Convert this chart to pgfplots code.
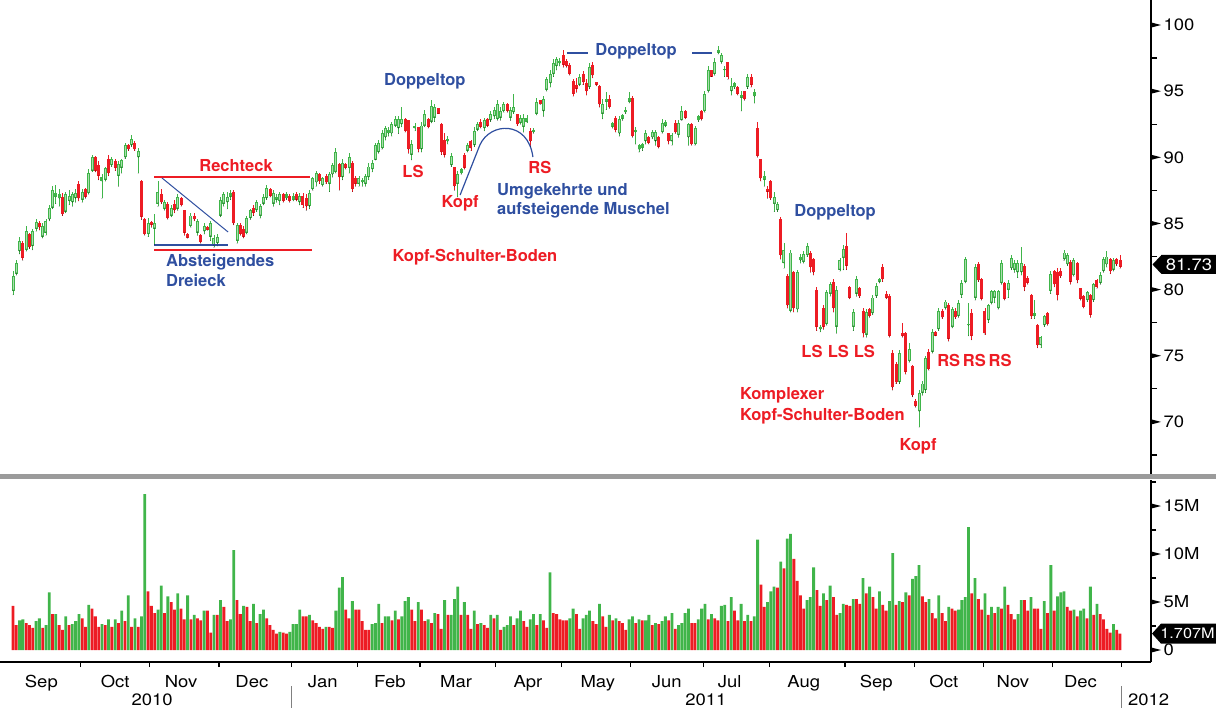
\documentclass[border=0pt]{standalone}
\usepackage{pgfplots}
\pgfplotsset{compat=1.18}
\usepackage{pgfplotstable}
\usepackage{fontspec}
\setmainfont{TeX Gyre Heros}
\newfontfamily\axisfontfam[FakeStretch=1.12]{TeX Gyre Heros}
\newcommand\axisfont{\axisfontfam\fontsize{16.5bp}{19bp}\selectfont}
\newcommand\annfont{\fontsize{16.5bp}{20bp}\selectfont\bfseries}
\definecolor{cgreen}{HTML}{40B54A}
\definecolor{cgfill}{HTML}{ABDDAE}
\definecolor{cred}{HTML}{ED1C24}
\definecolor{cblue}{HTML}{2F4FA0}
\definecolor{sepgray}{HTML}{9B9B9B}

\pgfplotstableread{
i o h l c v g
0 79.9 81.4 79.6 81.0 4.6 0
1 81.2 82.2 81.1 82.0 2.6 0
2 82.9 84.0 82.7 83.7 3.1 1
3 83.5 83.7 82.2 82.4 3.2 1
4 83.0 84.8 82.9 84.4 2.8 0
5 84.2 84.3 83.1 83.2 2.6 0
6 83.3 84.6 83.0 84.4 2.3 0
7 84.6 85.3 84.4 85.1 3.0 1
8 85.0 85.2 84.5 84.7 3.3 1
9 84.0 85.0 83.9 84.8 2.3 0
10 84.3 85.3 84.1 85.2 2.6 1
11 85.3 86.4 85.2 86.2 6.0 1
12 86.2 87.8 86.1 87.5 3.75 0
13 87.0 87.9 86.5 87.3 3.75 1
14 86.9 87.6 86.3 87.2 2.6 0
15 87.0 87.3 85.6 85.7 2.1 0
16 85.9 87.4 85.8 87.2 3.5 1
17 86.7 87.5 86.4 87.1 2.6 0
18 86.6 87.4 86.3 87.2 2.7 1
19 86.9 87.6 86.6 87.3 3.0 1
20 88.0 88.2 86.7 86.9 3.75 1
21 86.8 87.6 86.6 87.4 3.3 0
22 87.6 87.7 86.9 87.0 2.4 0
23 87.3 89.1 87.2 88.8 4.7 1
24 89.0 90.2 88.9 90.0 4.3 0
25 90.0 90.1 88.9 89.0 3.5 0
26 89.4 89.7 88.3 88.6 2.4 0
27 88.2 88.7 86.9 88.5 2.7 1
28 88.3 89.3 88.2 89.2 2.6 0
29 89.9 90.2 88.6 88.8 3.2 1
30 89.4 90.0 89.3 89.9 2.4 0
31 89.7 89.9 89.0 89.2 3.2 1
32 88.6 89.7 87.8 89.5 2.8 0
33 89.2 89.9 88.8 89.8 4.1 1
34 90.0 91.1 89.9 90.9 3.0 0
35 90.9 91.0 90.5 90.6 5.7 1
36 90.9 91.7 90.8 91.4 2.4 0
37 91.1 91.2 90.5 90.6 3.3 1
38 90.0 90.7 88.8 90.5 2.4 0
39 88.2 88.3 85.3 85.5 3.5 1
40 85.3 85.4 84.1 84.2 16.25 1
41 84.2 85.4 84.0 85.0 6.1 0
42 85.1 85.2 84.7 84.9 4.6 0
43 84.6 85.7 83.4 85.0 3.85 0
44 86.5 88.2 86.3 87.4 4.2 1
45 87.2 87.6 86.5 86.6 6.7 1
46 86.1 86.8 86.0 86.6 3.85 0
47 86.5 86.6 85.3 85.4 5.6 1
48 85.6 86.4 85.5 86.2 5.0 0
49 86.5 86.8 85.8 86.0 4.2 0
50 86.1 87.2 86.0 87.0 5.9 1
51 86.9 87.0 86.3 86.4 4.3 0
52 86.0 86.0 84.1 84.3 3.2 0
53 84.2 84.3 83.9 83.9 5.7 1
54 84.8 85.8 84.7 85.6 3.2 0
55 85.6 85.8 85.2 85.3 3.65 1
56 84.3 85.3 84.1 85.2 3.3 0
57 84.1 84.2 83.5 83.6 3.1 0
58 84.4 85.0 84.2 84.8 4.1 1
59 84.7 84.8 84.5 84.5 4.1 0
60 84.0 85.2 83.7 85.0 1.8 0
61 83.3 84.1 83.2 83.9 3.65 1
62 83.5 84.2 83.3 84.0 3.65 0
63 85.6 87.0 85.5 86.8 5.2 1
64 86.5 87.4 86.3 87.2 4.5 0
65 86.6 87.4 86.1 87.0 3.0 0
66 87.0 87.5 86.8 87.3 3.2 1
67 87.4 87.5 84.9 85.0 10.4 1
68 83.7 85.0 83.5 84.9 5.2 0
69 84.9 85.0 84.1 84.2 3.75 0
70 84.6 84.8 83.9 84.0 4.6 1
71 84.3 85.6 84.2 85.4 4.5 0
72 85.4 86.1 85.3 86.0 3.0 0
73 86.2 86.4 85.6 85.8 4.8 1
74 86.0 86.8 85.9 86.6 2.8 0
75 85.6 86.5 85.4 86.3 3.75 1
76 86.5 87.2 86.4 87.0 4.2 1
77 86.9 87.9 86.8 87.7 3.3 0
78 87.6 87.7 87.0 87.1 2.6 0
79 86.5 87.5 86.3 87.3 2.1 0
80 86.8 87.2 86.6 87.0 1.7 0
81 86.7 87.4 86.4 87.2 1.9 1
82 87.2 87.3 86.6 86.7 1.8 0
83 86.9 87.4 86.8 87.2 1.7 0
84 87.1 87.2 86.6 86.7 1.9 1
85 86.8 87.3 86.7 87.1 2.7 1
86 87.2 87.4 86.7 86.8 2.7 1
87 86.6 87.3 86.4 87.1 4.2 1
88 87.1 87.3 86.2 86.4 3.5 0
89 86.9 87.2 86.0 86.3 3.5 0
90 86.3 87.5 86.1 87.3 3.65 1
91 87.6 88.5 87.5 88.4 3.1 0
92 88.1 89.0 87.8 88.8 2.8 0
93 88.7 88.8 88.0 88.2 2.4 0
94 87.9 88.5 87.8 88.4 2.2 0
95 88.6 88.7 88.0 88.1 2.4 1
96 88.0 88.9 87.4 88.7 2.4 0
97 88.7 89.6 88.5 89.4 2.3 0
98 88.9 90.7 88.8 90.4 4.1 1
99 89.5 89.6 87.5 88.5 6.5 1
100 88.5 89.9 88.3 89.6 7.6 1
101 89.5 89.6 89.1 89.2 4.2 0
102 89.2 90.3 88.8 90.0 3.3 0
103 89.6 89.7 87.4 87.6 5.1 1
104 88.4 88.6 87.8 88.0 4.2 0
105 88.0 88.6 87.8 88.4 4.2 0
106 88.1 88.4 87.8 88.3 3.0 0
107 88.0 88.7 87.8 88.6 2.1 0
108 88.5 89.6 88.3 89.3 2.1 0
109 89.1 89.8 88.9 89.6 2.7 1
110 89.8 91.1 89.8 90.9 2.8 1
111 90.4 91.3 90.3 91.1 4.8 1
112 90.7 92.1 90.6 91.8 2.8 0
113 91.5 92.4 91.3 92.2 3.5 1
114 91.8 92.3 91.6 92.1 3.5 1
115 91.8 92.7 91.6 92.5 3.1 0
116 92.4 93.1 92.3 92.9 4.1 1
117 92.2 93.1 91.8 92.9 3.2 0
118 92.5 93.8 92.3 92.9 3.5 1
119 92.9 93.0 91.9 92.0 5.1 1
120 92.8 92.8 90.3 90.6 5.5 1
121 90.2 91.3 89.8 91.0 4.2 0
122 92.2 92.6 92.0 92.4 3.0 0
123 92.3 92.3 90.4 90.6 5.0 1
124 90.6 92.7 90.4 92.4 4.2 0
125 92.4 93.6 92.3 93.3 3.0 0
126 92.9 93.0 92.2 92.3 3.2 1
127 92.7 94.3 92.6 93.9 2.8 0
128 93.0 94.0 92.7 93.8 3.85 1
129 93.7 93.7 93.3 93.3 3.75 0
130 92.5 92.6 90.2 90.4 2.2 0
131 91.3 91.8 90.0 90.2 5.2 1
132 91.2 91.6 91.0 91.4 3.65 0
133 89.4 90.3 89.3 90.1 3.65 1
134 89.3 89.3 87.5 87.8 5.3 1
135 88.0 89.0 87.0 88.7 6.6 1
136 88.8 89.2 88.7 89.1 3.65 0
137 90.2 90.3 89.1 89.2 5.0 1
138 90.5 91.1 90.4 90.9 3.65 0
139 91.2 91.3 90.5 90.7 2.2 0
140 90.9 92.3 90.8 92.0 4.1 1
141 92.1 92.7 92.0 92.5 2.7 0
142 92.7 92.9 92.2 92.3 2.8 1
143 92.2 93.0 92.0 92.8 2.6 0
144 92.9 93.0 92.3 92.4 2.3 0
145 92.8 93.5 92.7 93.3 3.65 1
146 93.1 93.8 92.9 93.6 3.3 0
147 92.9 94.3 92.8 94.0 3.65 1
148 93.0 93.8 92.8 93.5 2.1 0
149 93.5 94.2 93.4 94.0 2.4 1
150 94.0 94.1 93.4 93.5 2.6 1
151 93.0 93.8 92.8 93.6 3.5 1
152 93.4 94.8 93.3 93.8 2.6 0
153 93.3 93.3 92.4 92.5 3.3 1
154 92.6 93.2 92.5 93.0 4.1 1
155 92.3 93.3 91.9 93.0 3.0 0
156 92.7 93.2 92.6 93.0 2.4 0
157 92.0 92.2 90.8 91.2 3.2 1
158 91.9 92.2 91.8 92.1 3.75 1
159 93.3 94.5 93.2 94.2 2.6 0
160 94.3 94.3 94.0 94.0 3.75 1
161 93.5 94.6 93.1 94.4 3.1 0
162 95.1 96.1 95.0 95.9 2.3 0
163 95.6 96.6 95.3 96.3 8.1 1
164 96.3 97.4 96.1 97.1 3.85 0
165 96.9 97.6 96.6 97.4 3.75 0
166 97.1 97.5 96.9 97.3 3.2 0
167 97.7 98.1 96.8 97.0 3.1 0
168 97.3 97.4 96.8 96.9 3.1 0
169 97.0 97.1 96.2 96.3 3.3 1
170 95.8 95.9 94.6 94.8 4.3 1
171 95.5 96.0 94.9 95.2 3.75 0
172 95.5 96.3 95.4 96.1 2.2 0
173 96.3 96.5 95.5 95.7 3.3 1
174 95.6 95.9 94.7 95.0 3.65 1
175 95.3 97.1 95.2 96.8 4.1 1
176 97.0 97.2 96.0 96.2 3.0 0
177 95.7 95.7 95.4 95.5 2.7 0
178 95.4 95.5 93.8 94.0 4.8 1
179 93.3 94.4 92.9 94.0 3.5 0
180 94.2 94.9 93.6 94.4 2.4 0
181 94.4 94.7 93.7 93.8 3.65 1
182 92.3 92.7 92.2 92.6 3.1 0
183 93.0 93.1 91.9 92.1 3.3 1
184 91.8 93.1 91.6 92.9 3.0 0
185 92.9 93.3 92.8 93.2 2.8 0
186 93.4 93.8 93.3 93.6 2.1 0
187 94.2 94.9 94.1 94.5 3.2 1
188 94.5 94.6 91.5 91.6 3.5 1
189 91.9 92.3 91.0 92.1 2.8 0
190 90.6 91.0 90.4 90.9 3.2 1
191 90.7 91.1 90.5 91.0 3.1 0
192 91.2 92.1 91.0 91.8 3.1 1
193 91.5 91.6 91.0 91.1 3.65 1
194 91.5 92.1 91.4 91.9 2.6 0
195 91.2 92.1 90.9 91.9 2.8 1
196 91.5 91.6 90.7 90.8 2.7 0
197 91.9 92.9 91.8 92.6 3.0 1
198 92.4 92.8 92.3 92.7 3.5 1
199 91.8 91.8 91.0 91.2 3.1 0
200 91.2 91.8 90.9 91.7 3.85 1
201 92.6 92.8 91.8 91.9 2.2 0
202 91.7 92.8 91.5 92.6 2.6 1
203 92.8 93.9 92.8 93.5 2.8 1
204 93.5 93.6 92.9 93.0 3.85 1
205 91.5 92.6 90.9 92.5 4.3 1
206 92.5 92.6 90.9 91.0 2.8 0
207 91.0 92.4 90.9 92.2 2.8 0
208 92.8 93.2 92.7 93.1 3.2 1
209 93.5 93.6 92.8 92.9 4.3 1
210 93.5 95.0 93.4 94.8 4.8 1
211 95.0 96.9 94.9 96.6 3.2 0
212 96.6 96.6 96.1 96.1 3.75 1
213 96.3 97.5 96.2 97.2 3.3 0
214 97.9 98.4 97.8 98.1 3.1 0
215 97.2 97.9 97.1 97.7 4.6 1
216 96.6 96.9 96.1 96.7 4.7 1
217 97.2 97.2 95.9 96.1 3.0 0
218 95.0 96.0 94.7 95.4 5.5 1
219 95.3 95.7 95.2 95.6 4.1 0
220 95.3 95.4 94.7 94.8 3.1 0
221 94.5 95.0 93.5 94.7 4.8 1
222 95.0 95.0 94.3 94.4 3.0 0
223 95.3 96.3 95.2 96.1 3.65 1
224 96.1 96.3 95.3 95.5 3.0 0
225 94.6 95.2 94.1 94.9 3.5 1
226 92.2 92.7 90.0 90.1 11.5 1
227 89.9 89.9 88.2 88.4 6.8 0
228 88.3 89.0 87.8 88.6 4.5 0
229 87.6 87.8 86.9 87.4 5.0 1
230 88.2 88.3 86.8 86.9 6.1 1
231 86.5 87.4 85.9 87.0 6.6 1
232 86.0 86.6 85.9 86.5 6.5 0
233 85.3 85.5 82.3 82.6 9.2 1
234 82.0 83.5 81.6 83.0 8.5 0
235 81.0 81.2 78.6 78.8 11.6 1
236 78.4 83.0 78.3 82.8 12.1 1
237 81.3 81.4 78.3 78.6 9.5 0
238 78.5 81.5 78.3 81.3 7.2 0
239 82.2 82.7 82.0 82.5 5.7 0
240 82.1 82.9 82.0 82.7 4.3 0
241 82.6 83.5 82.5 83.3 5.2 1
242 82.8 82.9 81.3 81.7 5.5 1
243 82.3 82.4 81.1 81.3 8.6 1
244 80.0 80.2 76.9 77.2 6.25 0
245 77.0 77.3 76.8 77.2 4.6 0
246 78.6 78.8 77.0 77.2 5.9 1
247 77.4 80.0 77.3 79.8 5.2 0
248 79.7 80.6 79.5 80.4 6.7 1
249 80.6 80.8 78.3 78.6 5.5 0
250 77.2 80.3 76.7 80.0 3.65 0
251 81.5 82.4 81.4 82.2 3.85 1
252 82.4 83.4 81.5 83.1 4.8 1
253 83.3 84.3 81.5 81.8 4.7 0
254 80.2 80.3 79.3 79.4 4.6 0
255 77.2 78.5 76.9 78.3 5.3 1
256 79.7 81.0 79.5 80.8 5.3 0
257 80.1 80.2 79.4 79.5 4.8 0
258 78.4 78.6 76.4 76.7 7.5 1
259 76.6 78.5 76.4 78.3 5.9 0
260 78.5 78.6 77.9 78.0 6.6 1
261 78.2 79.6 78.1 79.4 5.5 0
262 79.5 80.5 79.4 80.3 4.3 0
263 80.6 80.9 80.5 80.8 6.1 1
264 81.7 81.9 80.6 80.8 4.7 0
265 79.7 79.9 79.3 79.4 4.1 0
266 79.5 79.7 76.4 76.5 5.1 1
267 75.2 75.4 72.4 72.6 10.1 1
268 74.4 74.5 72.9 73.0 4.7 0
269 73.0 75.4 72.9 75.2 5.1 1
270 76.7 77.5 76.4 76.5 5.0 0
271 76.7 76.8 73.6 73.8 6.0 1
272 74.6 76.0 74.5 75.5 5.7 0
273 74.2 74.3 71.9 72.0 7.4 1
274 71.6 71.7 71.1 71.2 7.7 1
275 70.8 72.4 69.6 72.2 8.85 1
276 72.2 73.1 72.0 72.9 5.6 0
277 72.4 75.0 72.2 74.8 5.0 0
278 75.3 75.5 73.9 74.0 5.3 1
279 75.3 77.0 75.2 76.8 3.85 0
280 76.8 76.9 76.5 76.5 3.3 0
281 77.0 78.6 76.9 78.4 5.7 1
282 78.4 78.5 77.8 77.9 3.85 0
283 78.6 79.2 78.5 79.1 3.0 0
284 78.8 79.0 76.1 76.3 4.5 1
285 77.2 78.7 77.1 78.5 4.3 0
286 78.4 78.6 77.8 77.9 4.1 0
287 78.0 79.2 77.9 79.0 4.2 1
288 79.6 80.7 79.4 80.5 5.2 1
289 80.6 82.5 80.5 82.3 5.5 1
290 77.3 79.0 76.5 77.4 12.8 1
291 78.2 78.5 76.2 76.5 5.9 0
292 79.4 81.9 79.2 81.7 7.5 1
293 81.9 82.1 80.6 80.7 5.3 0
294 80.8 80.9 79.2 79.3 4.2 0
295 78.4 78.6 76.6 76.7 5.9 1
296 77.7 78.9 77.5 78.8 3.65 0
297 79.0 80.0 78.9 79.9 4.5 1
298 79.4 80.0 79.0 79.9 3.85 0
299 78.6 80.0 78.5 79.9 4.5 1
300 80.5 82.2 80.4 82.0 4.3 0
301 80.5 80.6 79.2 79.3 6.6 1
302 80.0 80.7 79.4 80.5 4.7 0
303 81.6 82.6 81.5 82.4 3.75 0
304 81.5 82.2 81.3 82.0 3.2 0
305 81.3 82.2 80.9 82.0 3.75 1
306 81.3 83.2 81.1 82.0 5.2 1
307 81.8 81.9 79.9 80.2 5.2 0
308 80.9 81.0 80.4 80.5 4.1 0
309 79.6 79.7 77.8 78.0 5.5 1
310 78.0 79.2 77.8 78.2 4.3 0
311 77.3 77.4 75.6 75.8 4.3 0
312 75.8 76.5 75.6 76.4 2.2 0
313 77.3 78.1 77.2 78.0 5.1 1
314 78.2 78.3 77.3 77.4 3.85 0
315 79.9 81.4 79.7 81.2 8.85 1
316 81.4 81.5 80.2 80.4 4.1 0
317 81.3 81.6 79.2 79.6 5.6 1
318 81.4 81.6 80.9 81.0 6.0 1
319 82.3 83.0 82.2 82.8 6.1 1
320 81.9 82.8 81.8 82.6 4.5 0
321 82.1 82.2 80.4 80.6 4.1 0
322 81.1 82.4 81.0 82.2 4.2 1
323 82.0 82.1 80.5 80.7 3.5 0
324 80.1 80.1 79.2 79.3 4.1 1
325 79.5 79.6 78.6 78.7 4.3 1
326 79.2 79.9 79.1 79.8 3.3 0
327 79.6 79.7 77.9 78.1 6.6 1
328 79.2 80.5 79.1 80.4 3.65 0
329 80.7 80.8 80.1 80.2 4.8 1
330 80.5 81.3 80.4 81.1 3.75 0
331 81.4 82.5 81.3 82.3 3.2 0
332 81.9 82.9 81.7 82.5 2.2 0
333 82.3 82.4 81.2 81.4 1.8 0
334 81.5 82.4 81.4 82.2 2.7 1
335 82.3 82.4 81.8 81.9 2.1 0
336 82.2 82.6 81.6 81.73 1.707 0
}\data

\pgfplotsset{
  candle/.style n args={2}{only marks, mark=*, mark size=0.01pt,
    mark options={draw=none, fill=none},
    error bars/.cd, y dir=plus, y explicit, error mark=none,
    error bar style={line width=#1, draw=#2}, /pgfplots/.cd},
}

\begin{document}
\begin{tikzpicture}
\path[use as bounding box] (0,0) rectangle (1216bp,-708bp);
% ---------------- price panel ----------------
\begin{axis}[
  at={(0,0)}, anchor=north west,
  scale only axis, width=1151bp, height=476bp,
  xmin=-3.95, xmax=345.4, ymin=65.91, ymax=101.89,
  axis x line=none, axis y line*=right,
  axis line style={line width=1.8bp, black},
  xtick=\empty,
  ytick={70,75,80,85,90,95,100},
  minor ytick={67.5,72.5,77.5,82.5,87.5,92.5,97.5},
  major tick length=0pt, minor tick length=6bp, tick align=outside,
  minor tick style={line width=1.2bp, black},
  yticklabel style={font=\axisfont, xshift=9bp},
  /pgf/number format/assume math mode=true,
  clip=false,
]
% wicks
\addplot[restrict expr to domain={\thisrow{c}-\thisrow{o}}{0:1000}, candle={0.9bp}{cgreen}]
  table[x=i, y=l, y error expr=\thisrow{h}-\thisrow{l}] {\data};
\addplot[restrict expr to domain={\thisrow{o}-\thisrow{c}}{0.0001:1000}, candle={0.9bp}{cred}]
  table[x=i, y=l, y error expr=\thisrow{h}-\thisrow{l}] {\data};
% bodies
\addplot[restrict expr to domain={\thisrow{c}-\thisrow{o}}{0:1000}, candle={3bp}{cgreen}]
  table[x=i, y=o, y error expr={max(\thisrow{c}-\thisrow{o},0.1)}] {\data};
\addplot[restrict expr to domain={\thisrow{c}-\thisrow{o}}{0.35:1000}, candle={1bp}{cgfill}]
  table[x=i, y expr=\thisrow{o}+0.07, y error expr={\thisrow{c}-\thisrow{o}-0.14}] {\data};
\addplot[restrict expr to domain={\thisrow{o}-\thisrow{c}}{0.0001:1000}, candle={3bp}{cred}]
  table[x=i, y=c, y error expr={max(\thisrow{o}-\thisrow{c},0.1)}] {\data};

% tick flags
\pgfplotsinvokeforeach{70,75,80,85,90,95,100}{
  \fill[black] ([yshift=2.6bp]axis cs:345.4,#1) -- ([xshift=10bp]axis cs:345.4,#1) -- ([yshift=-2.6bp]axis cs:345.4,#1) -- cycle;
}
% last value box
\fill[black] ([xshift=1.5bp]axis cs:345.4,81.9) -- ([xshift=10.5bp,yshift=9.5bp]axis cs:345.4,81.9)
  -- ([xshift=66bp,yshift=9.5bp]axis cs:345.4,81.9) -- ([xshift=66bp,yshift=-9.5bp]axis cs:345.4,81.9)
  -- ([xshift=10.5bp,yshift=-9.5bp]axis cs:345.4,81.9) -- cycle;
\node[text=white, font=\axisfont, inner sep=0pt] at ([xshift=38bp]axis cs:345.4,81.9) {81.73};

% pattern annotations
\draw[cred, line width=2.2bp] (axis cs:42.8,88.51) -- (axis cs:90.1,88.51);
\draw[cred, line width=2.2bp] (axis cs:42.8,82.99) -- (axis cs:90.7,82.99);
\draw[cblue, line width=2.4bp] (axis cs:42.8,83.37) -- (axis cs:65.3,83.37);
\draw[cblue, line width=1bp] (axis cs:45.2,88.44) -- (axis cs:65.3,84.35);
\node[anchor=base, text=cred, font=\annfont, inner sep=0pt] at (axis cs:67.7,88.89) {Rechteck};
\node[anchor=base west, text=cblue, font=\annfont, inner sep=0pt] at (axis cs:46.4,81.71) {Absteigendes};
\node[anchor=base west, text=cblue, font=\annfont, inner sep=0pt] at (axis cs:46.4,80.2) {Dreieck};

\node[anchor=base, text=cblue, font=\annfont, inner sep=0pt] at (axis cs:125.0,95.46) {Doppeltop};
\node[anchor=base, text=cred, font=\annfont, inner sep=0pt] at (axis cs:121.4,88.51) {LS};
\node[anchor=base, text=cred, font=\annfont, inner sep=0pt] at (axis cs:135.7,86.17) {Kopf};
\node[anchor=base, text=cred, font=\annfont, inner sep=0pt] at (axis cs:159.9,88.81) {RS};
\draw[cblue, line width=1.2bp] (axis cs:135.7,87.15) -- (axis cs:141.7,90.93)
  .. controls (axis cs:144.8,92.67) and (axis cs:156.3,92.82) .. (axis cs:157.8,90.02);
\node[anchor=base west, text=cblue, font=\annfont, inner sep=0pt] at (axis cs:146.9,87.15) {Umgekehrte und};
\node[anchor=base west, text=cblue, font=\annfont, inner sep=0pt] at (axis cs:146.9,85.64) {aufsteigende Muschel};
\node[anchor=base, text=cred, font=\annfont, inner sep=0pt] at (axis cs:140.2,82.09) {Kopf-Schulter-Boden};

\node[anchor=base, text=cblue, font=\annfont, inner sep=0pt] at (axis cs:189.1,97.66) {Doppeltop};
\draw[cblue, line width=1.8bp] (axis cs:168.1,97.88) -- (axis cs:174.5,97.88);
\draw[cblue, line width=1.8bp] (axis cs:206.1,97.88) -- (axis cs:212.1,97.88);

\node[anchor=base, text=cblue, font=\annfont, inner sep=0pt] at (axis cs:249.5,85.51) {Doppeltop};
\node[anchor=base, text=cred, font=\annfont, inner sep=0pt] at (axis cs:242.5,74.88) {LS};
\node[anchor=base, text=cred, font=\annfont, inner sep=0pt] at (axis cs:250.5,74.88) {LS};
\node[anchor=base, text=cred, font=\annfont, inner sep=0pt] at (axis cs:258.4,74.88) {LS};
\node[anchor=base west, text=cred, font=\annfont, inner sep=0pt] at (axis cs:220.6,71.73) {Komplexer};
\node[anchor=base west, text=cred, font=\annfont, inner sep=0pt] at (axis cs:220.6,70.07) {Kopf-Schulter-Boden};
\node[anchor=base, text=cred, font=\annfont, inner sep=0pt] at (axis cs:274.7,67.82) {Kopf};
\node[anchor=base, text=cred, font=\annfont, inner sep=0pt] at (axis cs:284.0,74.17) {RS};
\node[anchor=base, text=cred, font=\annfont, inner sep=0pt] at (axis cs:291.8,74.17) {RS};
\node[anchor=base, text=cred, font=\annfont, inner sep=0pt] at (axis cs:299.6,74.17) {RS};
\end{axis}

% ---------------- volume panel ----------------
\begin{axis}[
  at={(0,-480bp)}, anchor=north west,
  scale only axis, width=1151bp, height=182bp,
  xmin=-3.95, xmax=345.4, ymin=-1.25, ymax=17.71,
  axis x line*=bottom, axis y line*=right,
  axis line style={line width=1.8bp, black},
  xtick={8.6,31,51,72.5,94,114.4,134.5,156.3,177.5,198.4,217.5,240,262,282.5,303.5,324},
  xticklabels={Sep,Oct,Nov,Dec,Jan,Feb,Mar,Apr,May,Jun,Jul,Aug,Sep,Oct,Nov,Dec},
  minor xtick={20.5,41.5,62.5,84.5,104.5,123.5,146.5,166.5,187.5,209.5,229.5,252.5,273.5,294.5,315.5,336.5},
  ytick={0,5,10,15}, yticklabels={0,5M,10M,15M},
  minor ytick={2.5,7.5,12.5,17.5},
  major tick length=0pt, minor tick length=5bp, tick align=outside,
  minor tick style={line width=1.2bp, black},
  yticklabel style={font=\axisfont, xshift=9bp},
  xticklabel style={font=\axisfont, anchor=base, yshift=-25bp},
  /pgf/number format/assume math mode=true,
  clip=false,
]
\addplot[ybar, bar width=2.8bp, bar shift=0pt, fill=cgreen, draw=none,
  restrict expr to domain={\thisrow{g}}{0.5:1.5}] table[x=i, y=v] {\data};
\addplot[ybar, bar width=2.8bp, bar shift=0pt, fill=cred, draw=none,
  restrict expr to domain={\thisrow{g}}{-0.5:0.5}] table[x=i, y=v] {\data};

\pgfplotsinvokeforeach{0,5,10,15}{
  \fill[black] ([yshift=2.6bp]axis cs:345.4,#1) -- ([xshift=10bp]axis cs:345.4,#1) -- ([yshift=-2.6bp]axis cs:345.4,#1) -- cycle;
}
\fill[black] ([xshift=1bp]axis cs:345.4,1.707) -- ([xshift=10bp,yshift=10bp]axis cs:345.4,1.707)
  -- ([xshift=66bp,yshift=10bp]axis cs:345.4,1.707) -- ([xshift=66bp,yshift=-10bp]axis cs:345.4,1.707)
  -- ([xshift=10bp,yshift=-10bp]axis cs:345.4,1.707) -- cycle;
\node[text=white, font=\axisfontfam\fontsize{14.5bp}{17bp}\selectfont, inner sep=0pt] at ([xshift=36.5bp]axis cs:345.4,1.707) {1.707M};

\node[font=\axisfont, anchor=base, inner sep=0pt] at ([yshift=-43bp]axis cs:42.2,-1.25) {2010};
\node[font=\axisfont, anchor=base, inner sep=0pt] at ([yshift=-43bp]axis cs:210.3,-1.25) {2011};
\node[font=\axisfont, anchor=base west, inner sep=0pt] at ([yshift=-43bp]axis cs:338.4,-1.25) {2012};
\draw[gray, line width=1.2bp] ([yshift=-24bp]axis cs:84.5,-1.25) -- ([yshift=-48bp]axis cs:84.5,-1.25);
\draw[gray, line width=1.2bp] ([yshift=-24bp]axis cs:336.5,-1.25) -- ([yshift=-48bp]axis cs:336.5,-1.25);
\end{axis}

% panel separator
\fill[sepgray] (0,-473.5bp) rectangle (1216bp,-478.5bp);
\end{tikzpicture}
\end{document}
